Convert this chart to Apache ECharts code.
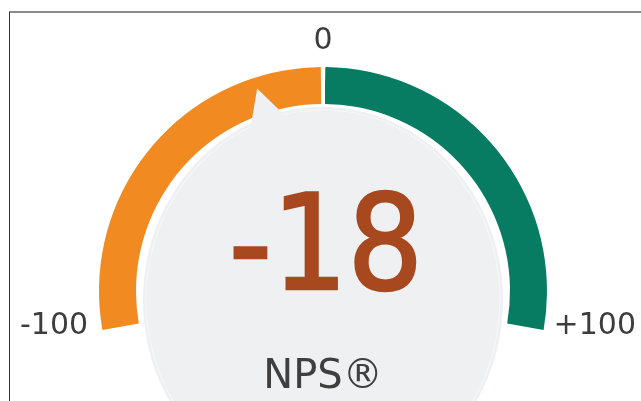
<!DOCTYPE html>
<html lang="en">
<head>
	<meta charset="UTF-8">
	<title>NPS gauge</title>
	<script type="text/javascript" src="https://cdn.jsdelivr.net/npm/echarts@6/dist/echarts.min.js"></script>
	<style>
		body { margin: 0; background: #fff; }
		#frame { position: absolute; left: 9px; top: 11px; right: 0; bottom: 0; border-top: 2px solid #8a8a8a; border-left: 1px solid #333; }
		#main { position: absolute; left: 0; top: 0; width: 641px; height: 401px; }
	</style>
</head>
<body>
	<div id="frame"></div>
	<div id="main"></div>
	<script type="text/javascript">
		// data
		var scaleMin = -100;
		var scaleMax = 100;
		var tickValues = [-100, 0, 100];
		var tickLabels = ['-100', '0', '+100'];
		var npsName = 'NPS®';
		var npsValue = -18;

		var orange = '#f18a21';
		var green = '#077c63';
		var discGrey = '#eef0f1';

		var myChart = echarts.init(document.getElementById('main'));
		var option = {
			animation: false,
			graphic: [{
				type: 'ellipse',
				z: 0,
				shape: { cx: 323, cy: 300, rx: 180, ry: 193 },
				style: { fill: discGrey }
			}, {
				type: 'ellipse',
				z: 1,
				shape: { cx: 323, cy: 300, rx: 177, ry: 190 },
				style: { fill: null, stroke: '#f6f7f7', lineWidth: 1.2 }
			}],
			series: [{
				// main arc
				type: 'gauge',
				center: [323, 291],
				radius: 224,
				startAngle: 190,
				endAngle: -10,
				min: scaleMin,
				max: scaleMax,
				splitNumber: 2,
				axisLine: {
					lineStyle: {
						width: 37,
						color: [[0.4972, orange], [0.5028, '#ffffff'], [1, green]]
					}
				},
				splitLine: { show: false },
				axisTick: { show: false },
				axisLabel: { show: false },
				pointer: {
					icon: 'triangle',
					length: 42,
					width: 44,
					offsetCenter: [0, -171],
					itemStyle: { color: discGrey }
				},
				anchor: { show: false },
				title: {
					offsetCenter: [0, 87],
					fontFamily: 'DejaVu Sans',
					fontSize: 40,
					color: '#3f3f3f'
				},
				detail: {
					offsetCenter: [3, -36],
					fontFamily: 'DejaVu Sans Condensed',
					fontSize: 132,
					fontWeight: 'normal',
					color: '#a8481e',
					textBorderColor: '#a8481e',
					textBorderWidth: 2.5,
					formatter: function (v) { return String(v); }
				},
				data: [{ value: npsValue, name: npsName }]
			}, {
				// tick labels only
				type: 'gauge',
				center: [328, 326],
				radius: 308,
				startAngle: 180,
				endAngle: 0,
				min: scaleMin,
				max: scaleMax,
				splitNumber: tickValues.length - 1,
				axisLine: { show: false, lineStyle: { width: 0 } },
				splitLine: { show: false, length: 0, distance: 0 },
				axisTick: { show: false },
				pointer: { show: false },
				anchor: { show: false },
				title: { show: false },
				detail: { show: false },
				axisLabel: {
					distance: 0,
					fontFamily: 'DejaVu Sans',
					fontSize: 30,
					color: '#3d3d3d',
					formatter: function (v) {
						var i = tickValues.indexOf(v);
						var t = i >= 0 ? tickLabels[i] : '';
						return v === 0 ? '{z|' + t + '}' : t;
					},
					rich: {
						z: { fontFamily: 'DejaVu Sans', fontSize: 30, color: '#3d3d3d', padding: [8, 10, 0, 0] }
					}
				},
				data: []
			}]
		};
		myChart.setOption(option);
	</script>
</body>
</html>
